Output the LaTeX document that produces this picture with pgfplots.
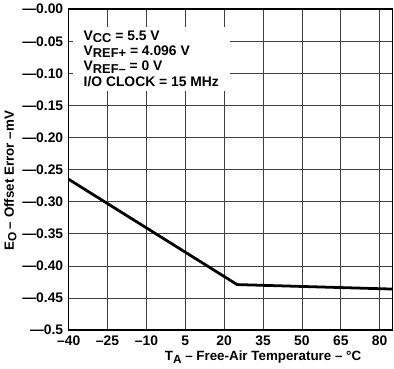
\documentclass[border=0pt]{standalone}
\usepackage{pgfplots}
\pgfplotsset{compat=1.18}
\usepackage{fontspec}
\setmainfont{Liberation Sans}
\newcommand{\sub}[1]{\raisebox{-0.35ex}{\fontsize{12}{12}\selectfont #1}}
\newcommand{\bsub}[1]{\raisebox{-0.3ex}{\fontsize{13}{13}\selectfont #1}}
\begin{document}
\fontsize{13}{15}\selectfont\bfseries
\begin{tikzpicture}
\begin{axis}[
  scale only axis,
  width=326bp, height=323bp,
  xmin=-40, xmax=85, ymin=-0.5, ymax=0,
  xtick={-40,-25,-10,5,20,35,50,65,80},
  xticklabels={–40,–25,–10,5,20,35,50,65,80},
  ytick={-0.5,-0.45,-0.4,-0.35,-0.3,-0.25,-0.2,-0.15,-0.1,-0.05,0},
  yticklabels={—0.5,—0.45,—0.40,—0.35,—0.30,—0.25,—0.20,—0.15,—0.10,—0.05,—0.00},
  grid=major,
  major grid style={black!75, line width=0.8pt},
  major tick length=0pt,
  axis line style={line width=1.6pt},
  tick label style={font=\fontsize{14}{15}\selectfont\bfseries},
  label style={font=\fontsize{13.5}{15}\selectfont\bfseries},
  xlabel={T\sub{A} – Free-Air Temperature – °C},
  ylabel={E\sub{O} – Offset Error –mV},
  xticklabel style={yshift=-1pt},
  yticklabel style={xshift=-1pt},
  xlabel style={at={(ticklabel cs:0.6)}, yshift=3pt},
  ylabel style={at={(ticklabel cs:0.465)}, yshift=-3pt},
  clip=false,
]
\addplot[black, line width=2.8pt] coordinates {(-40,-0.265) (25,-0.429) (85,-0.436)};
\node[anchor=north west, fill=white, inner xsep=11bp, inner ysep=4bp, align=left, font=\fontsize{14}{15.5}\selectfont\bfseries]
  at (axis cs:-38.5,-0.027) {V\bsub{CC} = 5.5 V\\V\bsub{REF+} = 4.096 V\\V\bsub{REF–} = 0 V\\I/O CLOCK = 15 MHz};
\end{axis}
\end{tikzpicture}
\end{document}
